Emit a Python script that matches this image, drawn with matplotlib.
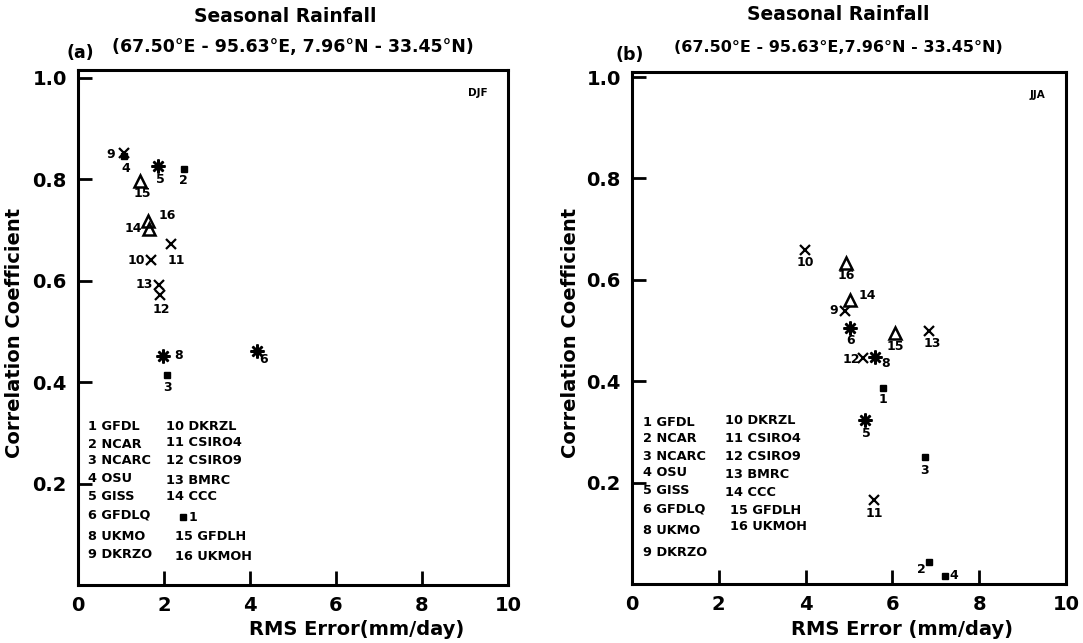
import matplotlib
matplotlib.use("Agg")
import matplotlib.pyplot as plt

# model numbers and names (as listed in the key)
model_ids = [1, 2, 3, 4, 5, 6, 8, 9, 10, 11, 12, 13, 14, 15, 16]
model_names = ["GFDL", "NCAR", "NCARC", "OSU", "GISS", "GFDLQ", "UKMO", "DKRZO",
               "DKRZL", "CSIRO4", "CSIRO9", "BMRC", "CCC", "GFDLH", "UKMOH"]

# (a) DJF: RMS error (mm/day) and correlation coefficient
rms_djf = [2.44, 2.46, 2.07, 1.06, 1.86, 4.16, 1.98, 1.06,
           1.70, 2.17, 1.91, 1.88, 1.66, 1.44, 1.63]
cc_djf = [0.134, 0.820, 0.414, 0.845, 0.826, 0.462, 0.452, 0.851,
          0.640, 0.673, 0.571, 0.592, 0.702, 0.797, 0.717]

# (b) JJA
rms_jja = [5.78, 6.85, 6.75, 7.22, 5.38, 5.03, 5.60, 4.90,
           3.98, 5.57, 5.33, 6.85, 5.03, 6.05, 4.94]
cc_jja = [0.386, 0.043, 0.250, 0.016, 0.324, 0.505, 0.447, 0.539,
          0.659, 0.165, 0.445, 0.500, 0.560, 0.495, 0.634]

x_ticks = [0, 2, 4, 6, 8, 10]
y_ticks = [0.2, 0.4, 0.6, 0.8, 1.0]

W, H = 1083, 643
FONT = "DejaVu Sans"

# label offsets (pixels, x right / y down) for each model number
offs_a = {1: (10, 0), 2: (0, 12), 3: (0, 13), 4: (2, 12), 5: (2, 14), 6: (7, 9),
          8: (15, 0), 9: (-13, 1), 10: (-15, 0), 11: (5, 17), 12: (1, 14),
          13: (-15, 0), 14: (-16, 0), 15: (2, 13), 16: (19, -6)}
offs_b = {1: (0, 11), 2: (-8, 7), 3: (0, 13), 4: (8, 0), 5: (1, 14), 6: (0, 12),
          8: (11, 6), 9: (-11, 0), 10: (1, 13), 11: (1, 13), 12: (-12, 1),
          13: (3, 13), 14: (17, -5), 15: (1, 13), 16: (0, 13)}


def fx(px):
    return px / W


def fy(py):
    return 1 - py / H


def marker_style(mid):
    if mid <= 4:
        return dict(marker="s", ms=4.5, mfc="black", mec="black")
    if mid <= 8:
        return dict(marker=(8, 2, 0), ms=10, mfc="black", mec="black", mew=1.8)
    if mid <= 13:
        return dict(marker="x", ms=7.5, mfc="black", mec="black", mew=1.6)
    return dict(marker="^", ms=9, mfc="none", mec="black", mew=1.8)


def panel(rect, rms, cc, offs, ylim_top, xlabel):
    ax = fig.add_axes(rect)
    for mid, x, y in zip(model_ids, rms, cc):
        ax.plot(x, y, linestyle="none", **marker_style(mid))
        dx, dy = offs[mid]
        ax.annotate(str(mid), (x, y), xytext=(dx, -dy), textcoords="offset pixels",
                    ha="center", va="center", fontsize=9, fontweight="bold",
                    family=FONT)
    ax.set_xlim(0, 10)
    ax.set_ylim(0, ylim_top)
    ax.set_xticks(x_ticks)
    ax.set_xticklabels([str(t) for t in x_ticks], fontsize=14, fontweight="bold",
                       family=FONT)
    ax.set_yticks(y_ticks)
    ax.set_yticklabels(["%.1f" % t for t in y_ticks], fontsize=14, fontweight="bold",
                       family=FONT)
    ax.tick_params(direction="in", length=10, width=2, pad=8)
    for s in ax.spines.values():
        s.set_linewidth(2.2)
    ax.set_xlabel(xlabel, fontsize=14, fontweight="bold", family=FONT)
    ax.set_ylabel("Correlation Coefficient", fontsize=14, fontweight="bold",
                  family=FONT)
    return ax


fig = plt.figure(figsize=(W / 100, H / 100), dpi=100)

# panel (a)
ax1 = panel([fx(78), fy(585), fx(508) - fx(78), fy(70) - fy(585)],
            rms_djf, cc_djf, offs_a, 1.015, "RMS Error(mm/day)")
ax1.xaxis.set_label_coords(0.647, -0.068)
ax1.yaxis.set_label_coords(-0.125, 0.49)
ax1.text(0.93, 0.955, "DJF", transform=ax1.transAxes, fontsize=7.5,
         fontweight="bold", family=FONT, ha="center", va="center")

# panel (b)
ax2 = panel([fx(632), fy(584), fx(1066) - fx(632), fy(72) - fy(584)],
            rms_jja, cc_jja, offs_b, 1.01, "RMS Error (mm/day)")
ax2.xaxis.set_label_coords(0.623, -0.07)
ax2.yaxis.set_label_coords(-0.12, 0.49)
ax2.text(0.935, 0.955, "JJA", transform=ax2.transAxes, fontsize=7.5,
         fontweight="bold", family=FONT, ha="center", va="center")

# titles
for cx, cy, tag, tx, ty in [(285, 17, "(a)", 80, 53), (838, 15, "(b)", 630, 55)]:
    fig.text(fx(cx), fy(cy), "Seasonal Rainfall", fontsize=13.5, fontweight="bold",
             family=FONT, ha="center", va="center")
    fig.text(fx(tx), fy(ty), tag, fontsize=12.5, fontweight="bold",
             family=FONT, ha="center", va="center")
fig.text(fx(293), fy(47), "(67.50°E - 95.63°E, 7.96°N - 33.45°N)", fontsize=12.5,
         fontweight="bold", family=FONT, ha="center", va="center")
fig.text(fx(838), fy(47), "(67.50°E - 95.63°E,7.96°N - 33.45°N)", fontsize=11.5,
         fontweight="bold", family=FONT, ha="center", va="center")

# key of model names, placed as in the original
key_a_col1 = [(88, 426), (88, 444), (88, 461), (88, 478), (88, 496), (88, 515),
              (88, 536), (88, 555)]
key_a_col2 = [(166, 426), (166, 443), (166, 461), (166, 480), (166, 497),
              (175, 537), (175, 556)]
key_b_col1 = [(643, 423), (643, 439), (643, 456), (643, 473), (643, 491),
              (643, 509), (643, 531), (643, 552)]
key_b_col2 = [(725, 420), (725, 438), (725, 456), (725, 474), (725, 492),
              (730, 510), (730, 527)]
for col1, col2 in [(key_a_col1, key_a_col2), (key_b_col1, key_b_col2)]:
    for (px, py), mid, name in zip(col1 + col2, model_ids, model_names):
        fig.text(fx(px), fy(py), "%d %s" % (mid, name), fontsize=9.3,
                 fontweight="bold", family=FONT, ha="left", va="center")

fig.savefig("out.png", dpi=100)
